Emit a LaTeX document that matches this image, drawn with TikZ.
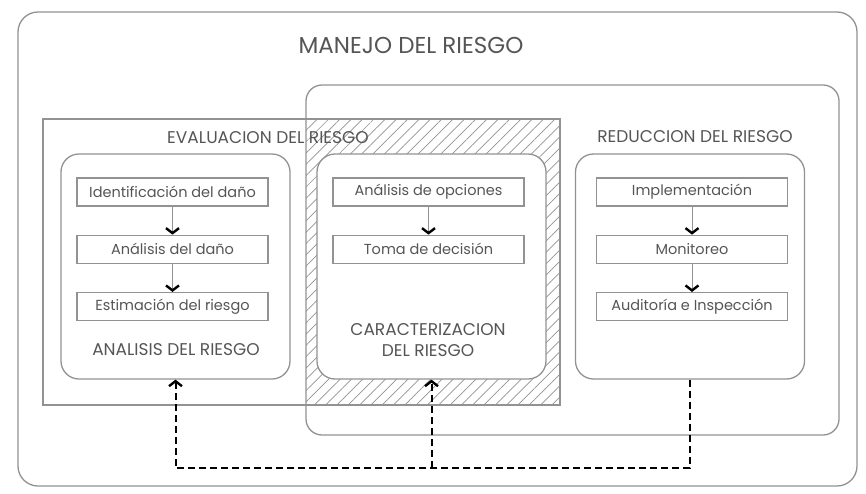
\documentclass[tikz,border=0pt]{standalone}
\usepackage{fontspec}
\setmainfont{Poppins}
\usepackage{tikz}
\usetikzlibrary{positioning}
\usetikzlibrary{patterns.meta,arrows.meta}
\definecolor{linegray}{HTML}{929292}
\definecolor{textgray}{HTML}{555555}
\tikzset{
  etapa/.style={draw=linegray,line width=1.3pt,rounded corners=18pt,minimum width=229pt,minimum height=225pt,fill=white},
  paso/.style={draw=linegray,line width=1.3pt,minimum width=191pt,minimum height=28pt,inner sep=0pt,text=textgray,font=\fontsize{14.5}{16}\selectfont},
  titulo/.style={text=textgray,font=\fontsize{17}{21}\selectfont,align=center},
  flecha/.style={draw=linegray,line width=1pt,-{Straight Barb[length=5pt,width=13pt,line width=2.4pt,color=black]}},
  retro/.style={draw=black,line width=2pt,dash pattern=on 7pt off 4pt,-{Straight Barb[length=5pt,width=13pt,line width=2.4pt]}}
}
\begin{document}
\begin{tikzpicture}[x=1pt,y=-1pt,node distance=28pt]
\useasboundingbox (0,0) rectangle (866,493);
\fill[pattern={Lines[angle=45,distance=8pt,line width=0.7pt]},pattern color=linegray] (306,119) rectangle (560,405);
\draw[linegray,line width=1.3pt,rounded corners=20pt] (18,12) rectangle (857,486);
\draw[linegray,line width=1.3pt,rounded corners=16pt] (306,85) rectangle (839,435);
\draw[linegray,line width=1.3pt] (43,119) rectangle (560,405);
\node[titulo,font=\fontsize{23}{27}\selectfont] (manejo) at (411,45) {MANEJO DEL RIESGO};
\node[titulo] (evaluacion) at (268,138) {EVALUACION DEL RIESGO};
\node[titulo] (reduccion) at (695,137) {REDUCCION DEL RIESGO};
\node[etapa] (ana) at (175.5,266.5) {};
\node[etapa] (car) at (431.5,266.5) {};
\node[etapa] (red) at (690,266.5) {};
\node[paso] (ident) at (172.5,192) {Identificación del daño};
\node[paso,below=of ident] (anadano) {Análisis del daño};
\node[paso,below=of anadano] (estim) {Estimación del riesgo};
\node[titulo] (analisis) at (176,350) {ANALISIS DEL RIESGO};
\node[paso] (opciones) at (428.5,192) {Análisis de opciones};
\node[paso,below=of opciones] (decision) {Toma de decisión};
\node[titulo] (caract) at (428,340) {CARACTERIZACION\\DEL RIESGO};
\node[paso] (implem) at (692,192) {Implementación};
\node[paso,below=of implem] (monit) {Monitoreo};
\node[paso,below=of monit] (audit) {Auditoría e Inspección};
\draw[flecha] (ident) -- (anadano);
\draw[flecha] (anadano) -- (estim);
\draw[flecha] (opciones) -- (decision);
\draw[flecha] (implem) -- (monit);
\draw[flecha] (monit) -- (audit);
\coordinate (bus) at (0,468);
\draw[retro] (red.south) -- (red.south |- bus) -| (ana.south);
\draw[retro] (car.south |- bus) -- (car.south);
\end{tikzpicture}
\end{document}
